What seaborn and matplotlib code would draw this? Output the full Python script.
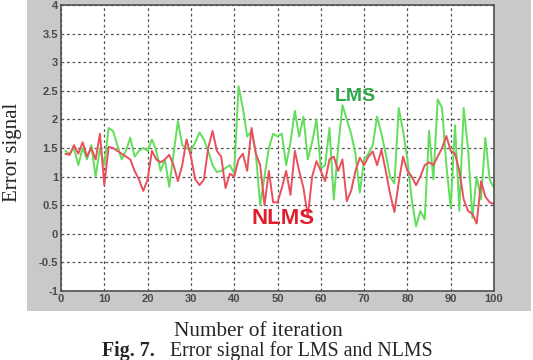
import numpy as np
import pandas as pd
import matplotlib
matplotlib.use("Agg")
import matplotlib.pyplot as plt
import seaborn as sns

iterations = list(range(1, 101))
lms = [1.45, 1.40, 1.50, 1.20, 1.50, 1.30, 1.55, 1.00, 1.50, 1.20,
       1.85, 1.80, 1.55, 1.30, 1.45, 1.68, 1.35, 1.45, 1.50, 1.45,
       1.65, 1.45, 1.10, 1.30, 0.82, 1.40, 1.97, 1.55, 1.50, 1.45,
       1.60, 1.77, 1.65, 1.45, 1.20, 1.08, 1.10, 1.15, 1.20, 1.05,
       2.58, 2.20, 1.70, 1.80, 1.40, 0.50, 1.00, 1.50, 1.75, 1.70,
       1.75, 1.20, 1.60, 2.15, 1.70, 2.05, 1.30, 1.60, 2.00, 1.15,
       1.20, 1.85, 0.60, 1.50, 2.25, 2.00, 1.75, 1.40, 0.72, 1.30,
       1.40, 1.55, 2.05, 1.75, 1.40, 1.00, 0.88, 2.20, 1.80, 1.30,
       0.60, 0.13, 0.40, 0.25, 1.80, 0.95, 2.35, 2.20, 1.20, 0.45,
       1.90, 0.40, 2.20, 1.50, 0.28, 1.00, 0.60, 1.68, 0.95, 0.80]
nlms = [1.40, 1.38, 1.55, 1.40, 1.60, 1.35, 1.50, 1.30, 1.75, 0.85,
        1.52, 1.50, 1.45, 1.40, 1.35, 1.30, 1.10, 0.95, 0.75, 0.95,
        1.45, 1.30, 1.25, 1.30, 1.38, 1.20, 0.92, 1.20, 1.65, 1.35,
        0.95, 0.85, 0.95, 1.50, 1.80, 1.45, 1.35, 0.80, 1.05, 1.00,
        1.30, 1.40, 1.10, 1.85, 1.40, 1.20, 0.50, 1.10, 0.55, 0.55,
        0.80, 1.10, 0.68, 1.45, 1.10, 0.80, 0.30, 1.00, 1.27, 1.10,
        0.92, 1.30, 1.35, 1.10, 1.30, 0.57, 0.75, 1.10, 1.33, 1.20,
        1.35, 1.44, 1.20, 1.47, 1.10, 0.70, 0.38, 0.90, 1.35, 1.10,
        1.00, 0.85, 1.00, 1.20, 1.25, 1.20, 1.35, 1.50, 1.71, 1.45,
        1.40, 1.10, 0.60, 0.40, 0.35, 0.18, 0.92, 0.65, 0.55, 0.52]
series_names = ["LMS", "NLMS"]
x_ticks = list(range(0, 101, 10))
y_ticks = [-1, -0.5, 0, 0.5, 1, 1.5, 2, 2.5, 3, 3.5, 4]
y_tick_labels = ["-1", "-0.5", "0", "0.5", "1", "1.5", "2", "2.5", "3", "3.5", "4"]

df = pd.DataFrame({
    "iteration": iterations * 2,
    "error": lms + nlms,
    "algo": [series_names[0]] * len(lms) + [series_names[1]] * len(nlms),
})

sns.set_style("white")
plt.rcParams["font.family"] = ["Liberation Sans", "DejaVu Sans"]

W, H = 533, 360
fig = plt.figure(figsize=(W / 100, H / 100), dpi=100)
fig.patch.set_facecolor("white")

# grey matlab-like panel behind the axes
bg = fig.add_axes([27 / W, 1 - 311 / H, (531 - 27) / W, 311 / H], zorder=-10)
bg.set_facecolor("#c9c9c9")
bg.set_xticks([])
bg.set_yticks([])
for sp in bg.spines.values():
    sp.set_visible(False)

ax = fig.add_axes([61 / W, 1 - 291 / H, (494 - 61) / W, (291 - 5) / H], zorder=1)
ax.set_facecolor("white")

palette = {"LMS": "#62de5c", "NLMS": "#e8505c"}
sns.lineplot(data=df, x="iteration", y="error", hue="algo", palette=palette,
             linewidth=1.4, legend=False, ax=ax, estimator=None)

ax.set_xlim(0, 100)
ax.set_ylim(-1, 4)
ax.set_xticks(x_ticks)
ax.set_yticks(y_ticks)
ax.set_yticklabels(y_tick_labels)
ax.set_xticklabels([str(t) for t in x_ticks])
ax.grid(True, color="#555555", linestyle=(0, (2.2, 2.2)), linewidth=0.9)
ax.set_axisbelow(True)
ax.tick_params(axis="both", labelsize=8, labelcolor="#4a4a4a", direction="in",
               length=3, width=0.8, color="#444444", pad=2)
for lab in ax.get_xticklabels() + ax.get_yticklabels():
    lab.set_fontweight("bold")
for sp in ax.spines.values():
    sp.set_color("#505050")
    sp.set_linewidth(1.2)
ax.set_xlabel("")
ax.set_ylabel("")

ax.text(67.9, 2.40, "LMS", color="#2fa84a", fontsize=14, fontweight="bold",
        ha="center", va="center")
ax.text(51.3, 0.26, "NLMS", color="#e0202e", fontsize=16, fontweight="bold",
        ha="center", va="center")

serif = ["Liberation Serif", "DejaVu Serif"]
fig.text(13 / W, 1 - 152 / H, "Error signal", rotation=90, ha="center",
         va="center", fontsize=15, family=serif)
fig.text(258 / W, 1 - 331 / H, "Number of iteration", ha="center", va="center",
         fontsize=15.3, family=serif)
fig.text(102 / W, 1 - 351 / H, "Fig. 7.", ha="left", va="center",
         fontsize=14.3, family=serif, fontweight="bold")
fig.text(170 / W, 1 - 351 / H, "Error signal for LMS and NLMS", ha="left",
         va="center", fontsize=14.3, family=serif)

fig.savefig("out.png", dpi=100)
